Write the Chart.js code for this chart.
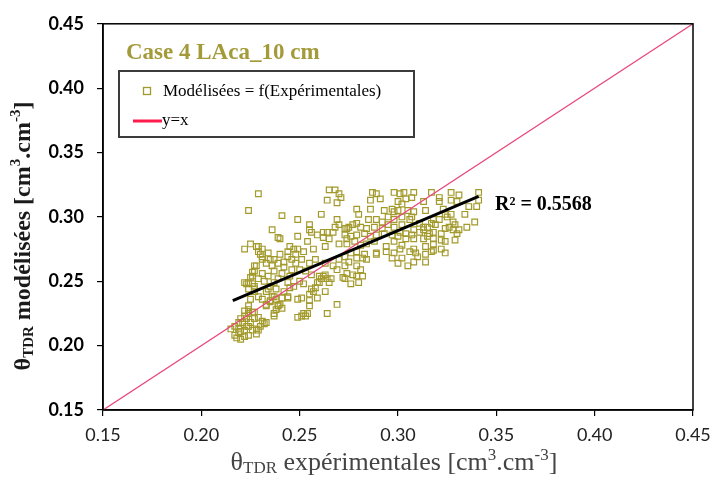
<!DOCTYPE html>
<html>
<head>
<meta charset="utf-8">
<script src="https://cdn.jsdelivr.net/npm/chart.js@4.4.1/dist/chart.umd.min.js"></script>
<style>
  html, body { margin: 0; padding: 0; background: #fff; }
  #wrap { width: 715px; height: 477px; }
</style>
</head>
<body>
<div id="wrap"><canvas id="mycanvas" width="715" height="477"></canvas></div>
<script>
// axis ticks
var xTicks = [0.15, 0.20, 0.25, 0.30, 0.35, 0.40, 0.45];
var yTicks = [0.15, 0.20, 0.25, 0.30, 0.35, 0.40, 0.45];

var expX = [
  0.215,0.217,0.217,0.218,0.219,0.219,0.219,0.220,0.220,0.220,0.221,0.222,0.222,0.222,0.223,0.224,0.224,0.224,0.224,0.225,0.225,0.226,0.227,0.227,0.228,0.229,0.230,0.231,0.232,0.233,0.228,0.229,0.226,0.223,0.224,0.222,
  0.222,0.225,0.224,0.229,0.228,0.229,0.231,0.231,0.227,0.226,0.225,0.224,0.223,0.222,0.224,0.226,0.227,0.227,0.228,0.227,0.226,0.229,0.231,0.230,0.234,0.233,0.235,0.236,0.237,0.239,0.237,0.235,0.234,0.236,0.239,0.241,0.231,0.233,0.235,0.237,0.227,0.229,0.233,0.234,0.236,0.238,0.235,0.233,0.239,0.238,0.237,0.231,0.232,0.229,
  0.249,0.261,0.255,0.255,0.265,0.268,0.270,0.271,0.264,0.269,
  0.269,0.268,0.270,0.273,0.256,0.262,0.264,0.267,0.249,0.240,
  0.254,0.259,0.262,0.265,
  0.237,0.240,0.244,0.244,0.246,0.248,
  0.249,0.245,0.247,0.252,0.257,0.263,0.270,0.274,0.239,0.242,
  0.246,0.248,0.251,0.255,0.258,0.263,0.267,0.270,0.273,0.241,
  0.245,0.244,0.242,0.250,0.253,0.256,0.260,0.263,0.266,0.265,
  0.260,0.261,0.272,0.269,0.273,0.250,0.247,
  0.238,0.242,0.245,
  0.241,0.244,0.239,0.240,0.241,0.251,0.255,0.259,0.257,0.255,
  0.255,0.254,0.252,0.251,0.269,0.264,0.237,0.252,0.256,0.258,
  0.259,0.262,0.264,0.263,0.249,0.249,0.244,0.253,
  0.287,0.289,0.291,0.286,0.286,0.298,0.301,0.303,0.304,0.302,
  0.300,0.307,0.279,0.280,0.293,0.297,0.298,0.300,0.305,0.285,
  0.289,0.292,0.295,0.298,0.302,0.306,0.274,0.275,0.277,0.279,
  0.281,0.284,0.288,0.292,0.295,0.298,0.302,0.273,0.276,0.279,
  0.283,0.286,0.289,0.293,0.297,0.301,0.304,0.274,0.278,0.281,
  0.284,0.288,0.294,0.298,0.300,0.304,0.307,0.276,0.279,0.283,
  0.289,0.294,0.298,0.301,0.302,0.306,0.275,0.279,0.282,0.284,
  0.289,0.297,0.302,0.305,0.308,0.274,0.277,0.279,0.282,0.281,
  0.279,0.280,0.276,0.273,0.300,
  0.308,0.317,0.321,0.327,0.331,0.341,0.341,0.327,0.330,0.336,
  0.340,0.334,0.321,0.313,0.314,0.308,0.307,0.323,0.324,0.325,
  0.327,0.328,0.321,0.318,0.317,0.319,0.315,0.313,0.311,0.308,
  0.311,0.313,0.316,0.318,0.322,0.324,0.326,0.328,0.329,0.331,
  0.330,0.308,0.313,0.315,0.318,0.322,0.324,0.329,0.318,0.308,
  0.309,0.310,0.314,0.317,0.318,0.322,0.324,0.314,0.314,0.339,0.335
];
var modY = [
  0.213,0.215,0.208,0.206,0.218,0.213,0.210,0.221,0.211,0.205,0.218,0.223,0.212,0.207,0.215,0.208,0.228,0.215,0.231,0.218,0.236,0.226,0.221,0.226,0.213,0.222,0.215,0.219,0.217,0.218,0.209,0.212,0.212,0.221,0.225,0.227,
  0.275,0.279,0.305,0.318,0.277,0.273,0.269,0.267,0.262,0.257,0.253,0.249,0.248,0.249,0.244,0.248,0.246,0.242,0.262,0.258,0.254,0.277,0.275,0.271,0.272,0.264,0.267,0.262,0.258,0.252,0.249,0.246,0.254,0.290,0.284,0.301,0.236,0.232,0.235,0.238,0.244,0.238,0.242,0.244,0.238,0.236,0.234,0.231,0.231,0.228,0.223,0.256,0.250,0.252,
  0.298,0.302,0.294,0.290,0.321,0.321,0.318,0.315,0.313,0.311,
  0.298,0.292,0.294,0.291,0.288,0.288,0.288,0.288,0.285,0.283,
  0.281,0.286,0.284,0.283,
  0.267,0.271,0.273,0.269,0.267,0.271,
  0.275,0.277,0.275,0.273,0.275,0.277,0.279,0.283,0.264,0.261,
  0.259,0.264,0.267,0.264,0.267,0.264,0.262,0.267,0.269,0.256,
  0.254,0.249,0.265,0.259,0.258,0.255,0.254,0.255,0.252,0.249,
  0.249,0.252,0.253,0.259,0.262,0.250,0.246,
  0.244,0.242,0.245,
  0.237,0.237,0.231,0.232,0.229,0.237,0.235,0.237,0.242,0.240,
  0.231,0.225,0.225,0.223,0.232,0.225,0.225,0.248,0.244,0.245,
  0.249,0.254,0.252,0.242,0.236,0.222,0.238,0.223,
  0.319,0.318,0.314,0.313,0.306,0.319,0.318,0.319,0.314,0.310,
  0.312,0.315,0.306,0.302,0.305,0.306,0.304,0.305,0.305,0.298,
  0.298,0.296,0.300,0.298,0.300,0.298,0.291,0.292,0.294,0.295,
  0.292,0.291,0.292,0.291,0.294,0.292,0.294,0.286,0.285,0.286,
  0.287,0.285,0.286,0.287,0.286,0.288,0.287,0.279,0.281,0.278,
  0.279,0.281,0.277,0.281,0.285,0.283,0.286,0.272,0.273,0.271,
  0.272,0.273,0.272,0.275,0.278,0.273,0.265,0.268,0.268,0.267,
  0.271,0.268,0.268,0.262,0.265,0.256,0.255,0.254,0.254,0.259,
  0.262,0.249,0.248,0.252,0.264,
  0.319,0.319,0.315,0.319,0.317,0.319,0.313,0.313,0.312,0.308,
  0.308,0.302,0.312,0.312,0.305,0.304,0.300,0.306,0.302,0.300,
  0.302,0.296,0.298,0.298,0.295,0.294,0.292,0.292,0.295,0.290,
  0.288,0.290,0.287,0.288,0.287,0.291,0.292,0.290,0.294,0.290,
  0.287,0.283,0.283,0.285,0.283,0.282,0.281,0.282,0.279,0.275,
  0.272,0.269,0.277,0.273,0.274,0.275,0.272,0.271,0.265,0.296,0.292
];

// y = x reference line and the fitted trend line
var identityX = [0.15, 0.45];
var identityY = [0.15, 0.45];
var trendX = [0.216, 0.341];
var trendY = [0.235, 0.316];
var r2Label = 'R² = 0.5568';
var caseTitle = 'Case 4 LAca_10 cm';

var ptColor = '#a39a2c';
var serif = '"Liberation Serif", "Times New Roman", serif';

function toPoints(xs, ys) {
  var out = [];
  for (var i = 0; i < Math.min(xs.length, ys.length); i++) {
    out.push({x: xs[i], y: ys[i]});
  }
  return out;
}

// text with sub/superscripts, centred on (cx, cy)
function drawRich(ctx, parts, cx, cy, size, weight, color, angle) {
  function font(p) {
    var s = p[1] ? Math.round(size * 0.64) : size;
    return weight + ' ' + s + 'px ' + serif;
  }
  var total = 0;
  parts.forEach(function(p) { ctx.font = font(p); total += ctx.measureText(p[0]).width; });
  ctx.save();
  ctx.translate(cx, cy);
  ctx.rotate(angle);
  ctx.fillStyle = color;
  ctx.textAlign = 'left';
  ctx.textBaseline = 'alphabetic';
  var x = -total / 2, base = size * 0.32;
  parts.forEach(function(p) {
    ctx.font = font(p);
    var dy = p[1] === 'sub' ? size * 0.12 : (p[1] === 'sup' ? -size * 0.4 : 0);
    ctx.fillText(p[0], x, base + dy);
    x += ctx.measureText(p[0]).width;
  });
  ctx.restore();
}

var decor = {
  id: 'decor',
  afterDraw: function(chart) {
    var ctx = chart.ctx, a = chart.chartArea;
    var ds = chart.data.datasets;
    ctx.save();

    // frame round the plot
    ctx.strokeStyle = '#000';
    ctx.lineWidth = 1.5;
    ctx.strokeRect(a.left, a.top, a.right - a.left, a.bottom - a.top);

    // case title
    ctx.font = 'bold 23px ' + serif;
    ctx.fillStyle = '#a39a3a';
    ctx.textAlign = 'left';
    ctx.textBaseline = 'middle';
    ctx.fillText(caseTitle, a.left + 23, a.top + 29);

    // legend box
    ctx.fillStyle = '#fff';
    ctx.fillRect(119, 71, 295, 66);
    ctx.strokeStyle = '#3c3c3c';
    ctx.lineWidth = 2;
    ctx.strokeRect(119, 71, 295, 66);

    ctx.strokeStyle = ds[0].borderColor;
    ctx.lineWidth = 1.3;
    ctx.strokeRect(143.5, 87.5, 7, 7);
    ctx.fillStyle = '#000';
    ctx.font = '17px ' + serif;
    ctx.fillText(ds[0].label, 163, 92);

    ctx.strokeStyle = '#ff1a4c';
    ctx.lineWidth = 3;
    ctx.beginPath();
    ctx.moveTo(133, 121);
    ctx.lineTo(162, 121);
    ctx.stroke();
    ctx.fillText(ds[1].label, 162, 121);

    // R2 label
    ctx.font = 'bold 20px ' + serif;
    ctx.fillStyle = '#000';
    ctx.fillText(r2Label, 495, 205);

    // axis titles
    drawRich(ctx, [['θ', ''], ['TDR', 'sub'], [' expérimentales [cm', ''], ['3', 'sup'], ['.cm', ''], ['-3', 'sup'], [']', '']],
      394, 462, 26, 'normal', '#444', 0);
    drawRich(ctx, [['θ', ''], ['TDR', 'sub'], [' modélisées [cm', ''], ['3', 'sup'], ['.cm', ''], ['-3', 'sup'], [']', '']],
      22, 236, 24, 'bold', '#1a1a1a', -Math.PI / 2);

    ctx.restore();
  }
};

var ctx = document.getElementById('mycanvas');

var chart = new Chart(ctx, {
  type: 'scatter',
  data: {
    datasets: [
      {
        label: 'Modélisées = f(Expérimentales)',
        data: toPoints(expX, modY),
        pointStyle: 'rect',
        pointRadius: 4,
        borderColor: ptColor,
        backgroundColor: 'rgba(255,255,255,0)',
        pointBorderWidth: 1.2,
        order: 2
      },
      {
        label: 'y=x',
        data: toPoints(identityX, identityY),
        showLine: true,
        pointRadius: 0,
        borderColor: '#e8487a',
        borderWidth: 1.3,
        order: 1
      },
      {
        label: 'trend',
        data: toPoints(trendX, trendY),
        showLine: true,
        pointRadius: 0,
        borderColor: '#000',
        borderWidth: 3,
        order: 0
      }
    ]
  },
  options: {
    responsive: false,
    animation: false,
    devicePixelRatio: 1,
    events: [],
    layout: { padding: { left: 0, top: 20, right: 22, bottom: 0 } },
    plugins: {
      legend: { display: false },
      tooltip: { enabled: false }
    },
    scales: {
      x: {
        type: 'linear',
        min: 0.15,
        max: 0.45,
        afterBuildTicks: function(s) { s.ticks = xTicks.map(function(v) { return {value: v}; }); },
        afterFit: function(s) { s.height = 67; s.paddingRight = 0; s.paddingLeft = 0; },
        grid: { drawOnChartArea: false, tickLength: 6, color: '#000', lineWidth: 1.2 },
        border: { color: '#000', width: 1.5 },
        ticks: {
          padding: 8,
          maxRotation: 0,
          color: '#222',
          font: { family: 'Lato', size: 18 },
          callback: function(v) { return v.toFixed(2); }
        }
      },
      y: {
        type: 'linear',
        min: 0.15,
        max: 0.45,
        afterBuildTicks: function(s) { s.ticks = yTicks.map(function(v) { return {value: v}; }); },
        afterFit: function(s) { s.width = 103; },
        grid: { drawOnChartArea: false, tickLength: 6, color: '#000', lineWidth: 1.2 },
        border: { color: '#000', width: 1.5 },
        ticks: {
          padding: 13,
          color: '#000',
          font: { family: 'Lato', size: 18, weight: 'bold' },
          callback: function(v) { return v.toFixed(2); }
        }
      }
    }
  },
  plugins: [decor]
});
</script>
</body>
</html>
